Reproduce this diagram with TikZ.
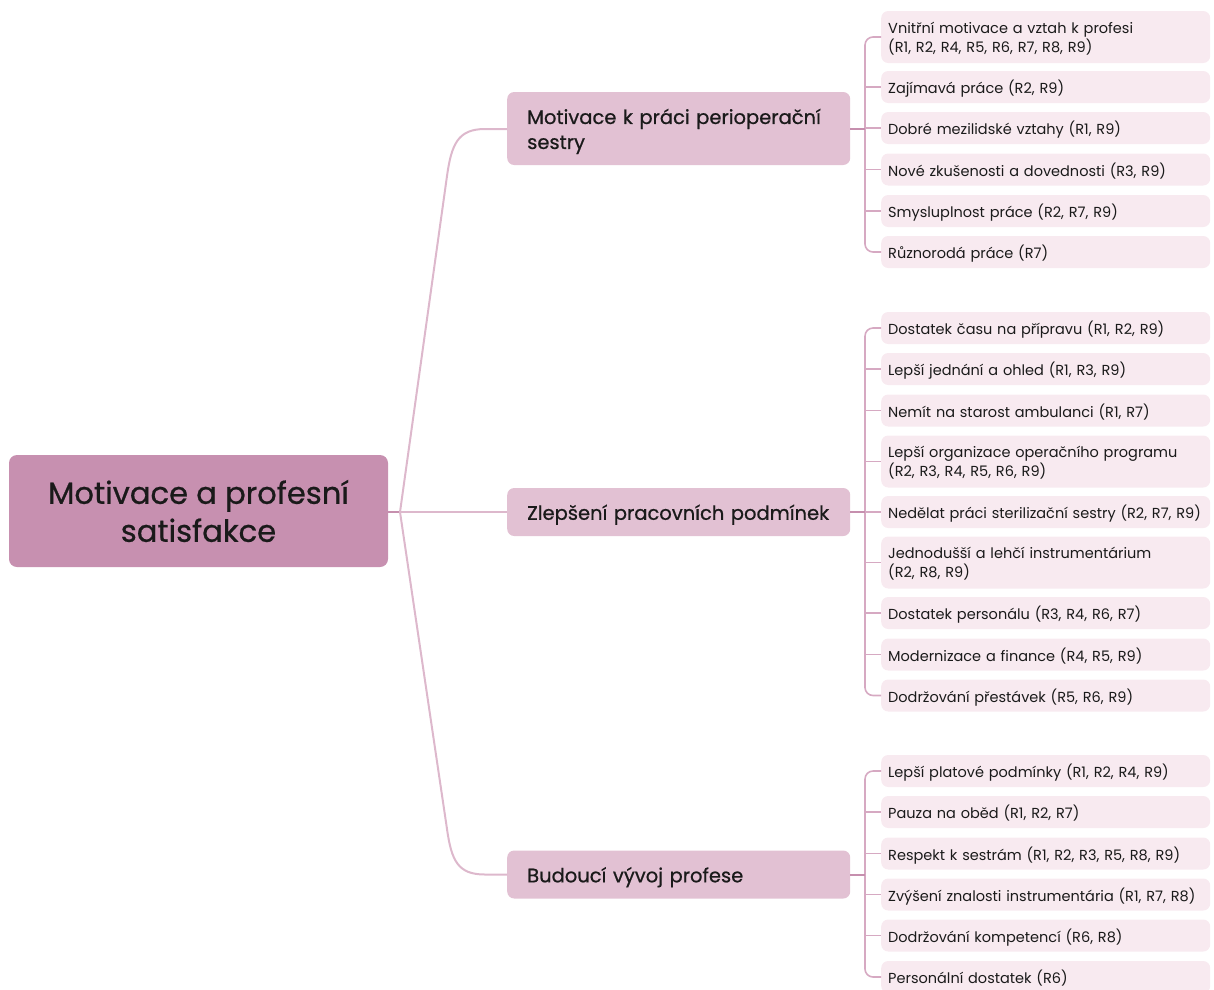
\documentclass[tikz,border=0pt]{standalone}
\usepackage{fontspec}
\setmainfont{Poppins}
\newfontfamily\medfont[FakeBold=0.7]{Poppins}
\definecolor{rootc}{HTML}{C790B0}
\definecolor{brc}{HTML}{E2C1D3}
\definecolor{leafc}{HTML}{F8EAF0}
\definecolor{curvec}{HTML}{DDB8CC}
\definecolor{stubc}{HTML}{C68FAE}
\definecolor{trunkc}{HTML}{D6A9C2}
\definecolor{txt}{HTML}{1A1A1A}
\begin{document}
\begin{tikzpicture}[x=1pt,y=-1pt,
  rootbox/.style={fill=rootc, rounded corners=8pt, minimum width=379pt, minimum height=112pt, align=center, text=txt, inner sep=0pt, font=\medfont\fontsize{30.6}{38}\selectfont},
  brbox/.style={fill=brc, rounded corners=7pt, anchor=west, text width=303pt, inner xsep=20pt, inner ysep=0pt, align=left, text=txt, font=\medfont\fontsize{19.5}{25}\selectfont},
  bronel/.style={minimum height=48pt, text height=21pt, text depth=5.4pt},
  leafbox/.style={fill=leafc, rounded corners=7pt, anchor=west, text width=315pt, inner xsep=7pt, inner ysep=0pt, minimum height=32pt, align=left, text=txt, font=\fontsize{14.5}{19}\selectfont},
  onel/.style={text height=17pt, text depth=4pt},
  twoline/.style={minimum height=52pt},
  rootline/.style={draw=stubc, line width=2pt},
  curveline/.style={draw=curvec, line width=2pt},
  stubline/.style={draw=stubc, line width=2pt},
  trunkline/.style={draw=trunkc, line width=1.6pt, rounded corners=8pt}
]
\useasboundingbox (0,0) rectangle (1214,989);

% root
\node[rootbox] (root) at (198.5,511) {Motivace a profesní\\satisfakce};

% branches
\node[brbox, minimum height=73pt] (b1) at (507,128.5) {\rule{0pt}{21pt}Motivace k práci perioperační\\sestry};
\node[brbox, bronel] (b2) at (507,512) {Zlepšení pracovních podmínek};
\node[brbox, bronel] (b3) at (507,874.5) {Budoucí vývoj profese};

% root connectors
\coordinate (hub) at (400,512);
\draw[rootline] (root.east |- hub) -- (hub);
\draw[curveline] (hub) -- (447,176) .. controls (451.5,144) and (458,129) .. (485,129) -- (b1.west |- 0,129);
\draw[curveline] (hub) -- (b2.west);
\draw[curveline] (hub) -- (447,829) .. controls (451.5,861) and (458,874.5) .. (485,874.5) -- (b3.west);

% group 1 leaves
\node[leafbox, twoline] (a1) at (881,37) {\rule{0pt}{14.5pt}Vnitřní motivace a vztah k profesi\\(R1, R2, R4, R5, R6, R7, R8, R9)};
\node[leafbox, onel] (a2) at (881,87) {Zajímavá práce (R2, R9)};
\node[leafbox, onel] (a3) at (881,128) {Dobré mezilidské vztahy (R1, R9)};
\node[leafbox, onel] (a4) at (881,169.5) {Nové zkušenosti a dovednosti (R3, R9)};
\node[leafbox, onel] (a5) at (881,211) {Smysluplnost práce (R2, R7, R9)};
\node[leafbox, onel] (a6) at (881,252) {Různorodá práce (R7)};

% group 2 leaves
\node[leafbox, onel] (c1) at (881,328) {Dostatek času na přípravu (R1, R2, R9)};
\node[leafbox, onel] (c2) at (881,369) {Lepší jednání a ohled (R1, R3, R9)};
\node[leafbox, onel] (c3) at (881,410.5) {Nemít na starost ambulanci (R1, R7)};
\node[leafbox, twoline] (c4) at (881,461.5) {\rule{0pt}{14.5pt}Lepší organizace operačního programu\\(R2, R3, R4, R5, R6, R9)};
\node[leafbox, onel] (c5) at (881,512) {Nedělat práci sterilizační sestry (R2, R7, R9)};
\node[leafbox, twoline] (c6) at (881,562.5) {\rule{0pt}{14.5pt}Jednodušší a lehčí instrumentárium\\(R2, R8, R9)};
\node[leafbox, onel] (c7) at (881,613) {Dostatek personálu (R3, R4, R6, R7)};
\node[leafbox, onel] (c8) at (881,654.5) {Modernizace a finance (R4, R5, R9)};
\node[leafbox, onel] (c9) at (881,695.5) {Dodržování přestávek (R5, R6, R9)};

% group 3 leaves
\node[leafbox, onel] (d1) at (881,771) {Lepší platové podmínky (R1, R2, R4, R9)};
\node[leafbox, onel] (d2) at (881,812) {Pauza na oběd (R1, R2, R7)};
\node[leafbox, onel] (d3) at (881,853.5) {Respekt k sestrám (R1, R2, R3, R5, R8, R9)};
\node[leafbox, onel] (d4) at (881,894.5) {Zvýšení znalosti instrumentária (R1, R7, R8)};
\node[leafbox, onel] (d5) at (881,935.5) {Dodržování kompetencí (R6, R8)};
\node[leafbox, onel] (d6) at (881,977) {Personální dostatek (R6)};

% group 1 connectors
\coordinate (t1) at (865,128.5);
\draw[trunkline] (a1.west) -| (t1) |- (a6.west);
\foreach \n in {a2,a3,a4,a5} \draw[trunkline] (t1 |- \n.west) -- (\n.west);
\draw[stubline] (b1.east) -- (t1);

% group 2 connectors
\coordinate (t2) at (865,512);
\draw[trunkline] (c1.west) -| (t2) |- (c9.west);
\foreach \n in {c2,c3,c4,c5,c6,c7,c8} \draw[trunkline] (t2 |- \n.west) -- (\n.west);
\draw[stubline] (b2.east) -- (t2);

% group 3 connectors
\coordinate (t3) at (865,874.5);
\draw[trunkline] (d1.west) -| (t3) |- (d6.west);
\foreach \n in {d2,d3,d4,d5} \draw[trunkline] (t3 |- \n.west) -- (\n.west);
\draw[stubline] (b3.east) -- (t3);
\end{tikzpicture}
\end{document}
